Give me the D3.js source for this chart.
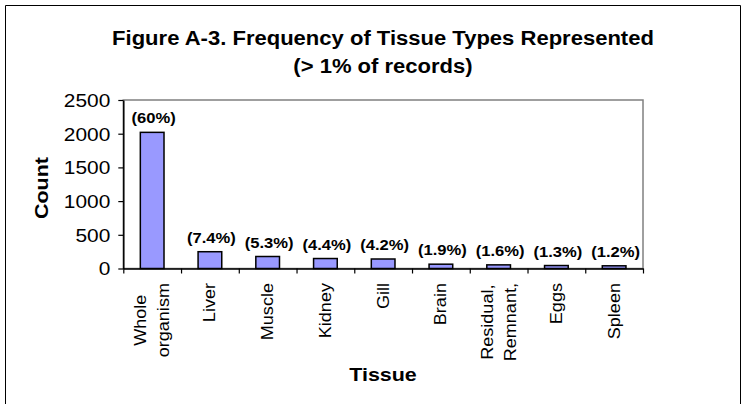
<!DOCTYPE html>
<html><head><meta charset="utf-8">
<script src="https://cdn.jsdelivr.net/npm/d3@7"></script>
<style>
body{margin:0;background:#fff}
text{font-family:Arial,"Liberation Sans",sans-serif;fill:#000}
</style>
</head><body>
<svg id="c" width="746" height="404"></svg>
<script>
// ---- data ----
const categories = ["Whole\norganism","Liver","Muscle","Kidney","Gill","Brain","Residual,\nRemnant,","Eggs","Spleen"];
const counts = [2020, 249, 178, 148, 141, 64, 54, 44, 40];
const percentLabels = ["(60%)","(7.4%)","(5.3%)","(4.4%)","(4.2%)","(1.9%)","(1.6%)","(1.3%)","(1.2%)"];
const yTicks = [0, 500, 1000, 1500, 2000, 2500];
const titleLines = ["Figure A-3. Frequency of Tissue Types Represented", "(> 1% of records)"];
const xTitle = "Tissue";
const yTitle = "Count";

// ---- layout ----
const W = 746, H = 404;
const plot = {l: 123.3, r: 643, t: 100, b: 268.5};
const SX = 1.13; // horizontal stretch of the original text rendering

const svg = d3.select("#c");
svg.append("rect").attr("width", W).attr("height", H).attr("fill", "#fff");
// outer chart border (bottom is cut off in original)
svg.append("path").attr("d", `M5.5,${H} V5.5 H740.5 V${H}`).attr("fill","none").attr("stroke","#000").attr("stroke-width",1);

const x = d3.scaleBand().domain(categories).range([plot.l, plot.r]).paddingInner(0).paddingOuter(0);
const y = d3.scaleLinear().domain([0, 2500]).range([plot.b, plot.t]);

// plot area border (grey)
svg.append("rect").attr("x", plot.l).attr("y", plot.t).attr("width", plot.r - plot.l).attr("height", plot.b - plot.t)
  .attr("fill", "none").attr("stroke", "#808080").attr("stroke-width", 1.5);

// title
const title = svg.append("g");
titleLines.forEach((t, i) => {
  title.append("text").attr("transform", `translate(383,${45 + i * 28}) scale(${SX},1)`)
    .attr("text-anchor", "middle").style("font-size", "19.5px").style("font-weight", "bold").text(t);
});

// bars
const bw = x.bandwidth() * 0.41;
svg.append("g").selectAll("rect").data(categories).join("rect")
  .attr("x", d => x(d) + (x.bandwidth() - bw) / 2)
  .attr("y", (d, i) => y(counts[i]))
  .attr("width", bw)
  .attr("height", (d, i) => y(0) - y(counts[i]))
  .attr("fill", "#9999FF").attr("stroke", "#000").attr("stroke-width", 1.5);

// percent labels
svg.append("g").selectAll("text").data(categories).join("text")
  .attr("transform", (d, i) => `translate(${x(d) + x.bandwidth() / 2 + 1.5},${y(counts[i]) - 9}) scale(1.07,1)`)
  .attr("text-anchor", "middle").style("font-size", "15.5px").style("font-weight", "bold")
  .text((d, i) => percentLabels[i]);

// y axis
const ya = svg.append("g").attr("transform", `translate(${plot.l},0)`)
  .call(d3.axisLeft(y).tickValues(yTicks).tickFormat(d3.format("d")).tickSize(5).tickPadding(0).tickSizeOuter(0));
ya.select(".domain").attr("stroke", "#000").attr("stroke-width", 1.5);
ya.selectAll(".tick line").attr("stroke", "#000").attr("stroke-width", 1.2);
ya.selectAll(".tick text").attr("x", null).attr("dy", "0.35em")
  .attr("transform", `translate(-13,0) scale(${SX},1)`)
  .style("font-size", "18.5px").style("font-family", "Arial, 'Liberation Sans', sans-serif");

// x axis: ticks at category boundaries
const xb = d3.scaleLinear().domain([0, categories.length]).range([plot.l, plot.r]);
const xa = svg.append("g").attr("transform", `translate(0,${plot.b})`)
  .call(d3.axisBottom(xb).tickValues(d3.range(categories.length + 1)).tickSize(5).tickFormat("").tickSizeOuter(0));
xa.select(".domain").attr("stroke", "#000").attr("stroke-width", 1.5);
xa.selectAll(".tick line").attr("stroke", "#000").attr("stroke-width", 1.2);

// category labels (rotated, multi-line centred)
const labTop = 283, lineGap = 23, catFS = 16;
categories.forEach(c => {
  const lines = c.split("\n");
  const g = svg.append("g");
  const cx = x(c) + x.bandwidth() / 2;
  const texts = lines.map((ln, j) => {
    const bx = cx + (j - (lines.length - 1) / 2) * lineGap + 5.5;
    return g.append("text").attr("text-anchor", "middle").style("font-size", catFS + "px").text(ln).datum(bx);
  });
  const maxLen = d3.max(texts, t => t.node().getComputedTextLength()) * SX;
  texts.forEach(t => {
    const bx = t.datum();
    t.attr("transform", `translate(${bx},${labTop + maxLen / 2}) rotate(-90) scale(${SX},1)`);
  });
});

// axis titles
svg.append("text").attr("transform", `translate(48,188) rotate(-90) scale(${SX},1)`)
  .attr("text-anchor", "middle").style("font-size", "19px").style("font-weight", "bold").text(yTitle);
svg.append("text").attr("transform", `translate(383,381) scale(${SX},1)`)
  .attr("text-anchor", "middle").style("font-size", "19px").style("font-weight", "bold").text(xTitle);
</script>
</body></html>
